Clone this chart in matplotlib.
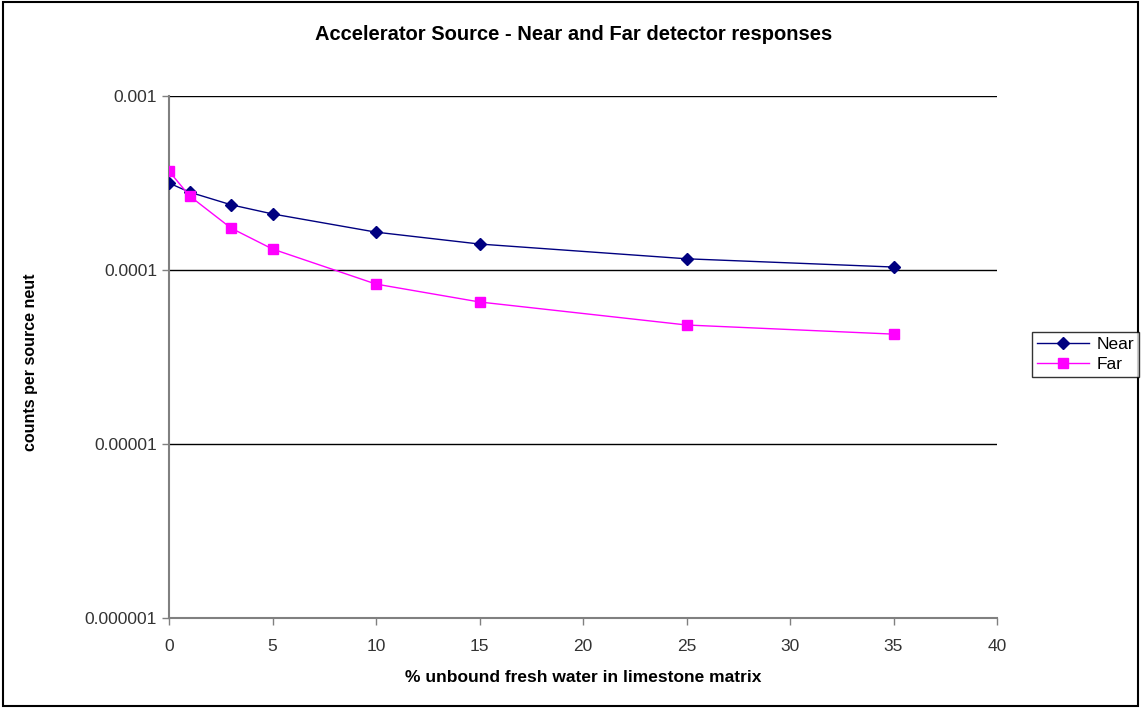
import matplotlib
matplotlib.use("Agg")
import matplotlib.pyplot as plt
from matplotlib.patches import Rectangle

x_vals = [0, 1, 3, 5, 10, 15, 25, 35]
near = [3.16e-4, 2.8e-4, 2.37e-4, 2.1e-4, 1.65e-4, 1.41e-4, 1.16e-4, 1.04e-4]
far = [3.7e-4, 2.66e-4, 1.74e-4, 1.32e-4, 8.3e-5, 6.55e-5, 4.83e-5, 4.28e-5]
y_ticks = [1e-6, 1e-5, 1e-4, 1e-3]
y_tick_labels = ["0.000001", "0.00001", "0.0001", "0.001"]
x_ticks = [0, 5, 10, 15, 20, 25, 30, 35, 40]

plt.rcParams['font.family'] = ['Liberation Sans', 'DejaVu Sans']

fig = plt.figure(figsize=(11.41, 7.08), dpi=100)
ax = fig.add_axes([169/1141, 1-618/708, (997-169)/1141, (618-96)/708])

ax.plot(x_vals, near, color='#000080', lw=1, marker='D', ms=6, mfc='#000080', mec='#000080', label='Near', zorder=3)
ax.plot(x_vals, far, color='#FF00FF', lw=1, marker='s', ms=7, mfc='#FF00FF', mec='#FF00FF', label='Far', zorder=3)

ax.set_yscale('log')
ax.set_ylim(1e-6, 1e-3)
ax.set_xlim(0, 40)
ax.set_yticks(y_ticks)
ax.set_yticklabels(y_tick_labels)
ax.yaxis.set_minor_locator(matplotlib.ticker.NullLocator())
ax.set_xticks(x_ticks)
ax.grid(axis='y', which='major', color='black', lw=1)
ax.set_axisbelow(True)
for s in ['top', 'right']:
    ax.spines[s].set_visible(False)
for s in ['left', 'bottom']:
    ax.spines[s].set_color('#808080')
    ax.spines[s].set_linewidth(1.5)
ax.tick_params(axis='both', colors='#808080', labelcolor='#333333', labelsize=12.5, length=5, width=1)
ax.tick_params(axis='x', pad=10)

ax.set_xlabel('% unbound fresh water in limestone matrix', fontsize=12.5, fontweight='bold', labelpad=12)
ax.set_ylabel('counts per source neut', fontsize=11.5, fontweight='bold')
ax.yaxis.set_label_coords(-0.158, 0.49)
fig.suptitle('Accelerator Source - Near and Far detector responses', x=0.503, y=0.965,
             fontsize=14.5, fontweight='bold')

leg = fig.legend(loc='upper left', bbox_to_anchor=(1032/1141, 1-332/708), frameon=True,
                 fancybox=False, edgecolor='black', fontsize=12.5, handlelength=3,
                 borderpad=0.3, labelspacing=0.25, handletextpad=0.4, borderaxespad=0)
leg.get_frame().set_linewidth(1)

fig.patches.append(Rectangle((3/1141, 2/708), 1-6/1141, 1-4/708, transform=fig.transFigure,
                             fill=False, edgecolor='black', lw=1.5))

fig.savefig('out.png', dpi=100)
